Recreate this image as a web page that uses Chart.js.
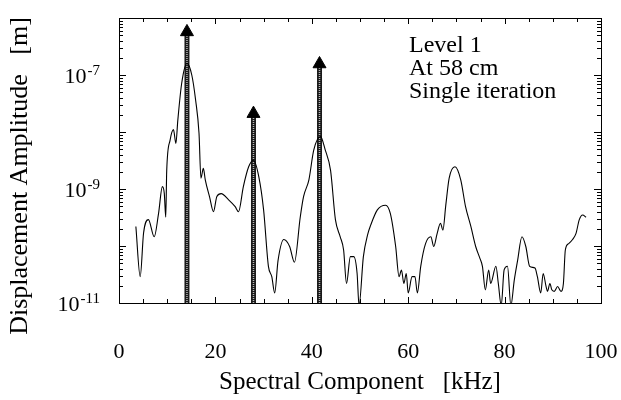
<!DOCTYPE html>
<html>
<head>
<meta charset="utf-8">
<script src="https://cdn.jsdelivr.net/npm/chart.js@4.4.0/dist/chart.umd.min.js"></script>
<style>
  html, body { margin: 0; padding: 0; background: #fff; }
  #wrap { width: 621px; height: 400px; }
</style>
</head>
<body>
<div id="wrap"><canvas id="graph"></canvas></div>
<script>
// Spectre mesuré (kHz -> m)
const freqs = [
  3.5, 4.4, 5.1, 6.1, 7.3, 8.2, 9.0, 9.4, 9.7, 9.9,
  10.6, 11.3, 11.8, 12.2, 13.0, 14.1, 15.1, 15.9, 16.6, 17.0,
  17.5, 17.9, 18.8, 19.6, 20.3, 21.2, 22.7, 24.1, 24.8, 25.8,
  26.9, 27.9, 29.0, 30.0, 31.0, 31.7, 32.3, 33.0, 34.2, 35.4,
  36.4, 37.6, 38.3, 39.4, 40.4, 41.8, 42.8, 43.9, 44.9, 45.9,
  46.6, 47.2, 48.0, 48.7, 49.4, 49.8, 50.7, 51.6, 52.2, 53.6,
  55.3, 56.3, 57.4, 58.1, 58.6, 59.1, 59.6, 60.0, 60.8, 61.4,
  61.9, 62.6, 63.6, 64.7, 65.3, 66.0, 66.7, 67.2, 67.8, 68.5,
  69.7, 70.9, 71.9, 73.0, 74.0, 74.9, 75.4, 76.0, 76.7, 77.1,
  78.2, 78.7, 79.3, 79.9, 80.6, 81.3, 82.0, 82.7, 83.6, 84.4,
  85.2, 86.3, 86.8, 87.5, 88.0, 88.6, 88.9, 89.4, 89.8, 90.3,
  91.0, 91.7, 92.2, 92.6, 93.3, 94.1, 94.8, 95.5, 96.2, 96.9
];
const amplitudes = [
  2.2e-10, 2.9e-11, 1.7e-10, 2.9e-10, 1.45e-10, 3.7e-10, 1.1e-9, 8.3e-10, 3.2e-10, 2.1e-9,
  7.2e-9, 1.1e-8, 6.3e-9, 1.6e-8, 7.1e-8, 1.6e-7, 1.0e-7, 3.6e-8, 9.5e-9, 1.55e-9,
  2.3e-9, 1.45e-9, 7.2e-10, 4.0e-10, 7.4e-10, 8.3e-10, 6.5e-10, 4.9e-10, 4.0e-10, 1.1e-9,
  2.45e-9, 3.2e-9, 1.65e-9, 4.3e-10, 4.4e-11, 2.9e-11, 1.5e-11, 5.6e-11, 1.3e-10, 9.8e-11,
  5.2e-11, 3.2e-10, 7.4e-10, 1.45e-9, 4.8e-9, 8.3e-9, 4.8e-9, 2.1e-9, 2.9e-10, 1.45e-10,
  8.5e-11, 2.2e-11, 6.5e-11, 6.5e-11, 3.3e-11, 9e-12, 6.5e-11, 1.6e-10, 2.3e-10, 4.3e-10,
  5.2e-10, 3.7e-10, 9.8e-11, 2.9e-11, 3.8e-11, 2.2e-11, 3.3e-11, 1.5e-11, 2.9e-11, 2.9e-11,
  1.5e-11, 4.4e-11, 1.1e-10, 1.45e-10, 9.8e-11, 1.65e-10, 2.5e-10, 1.9e-10, 5.2e-10, 1.55e-9,
  2.45e-9, 1.45e-9, 4.9e-10, 2.2e-10, 9.8e-11, 6.0e-11, 4.4e-11, 1.7e-11, 3.8e-11, 2.2e-11,
  4.4e-11, 2.2e-11, 9e-12, 3.8e-11, 4.4e-11, 9e-12, 2.5e-11, 5.6e-11, 1.45e-10, 9.8e-11,
  4.4e-11, 4.1e-11, 2.9e-11, 1.5e-11, 3.3e-11, 1.95e-11, 1.6e-11, 2.2e-11, 1.7e-11, 1.6e-11,
  1.95e-11, 1.6e-11, 2.2e-11, 8.5e-11, 1.1e-10, 1.3e-10, 1.65e-10, 2.9e-10, 3.5e-10, 3.2e-10
];

// Fleches (composantes de l'excitation)
const arrowFreqs = [14.1, 27.9, 41.6];
const arrowTops = [5.7e-7, 2.1e-8, 1.56e-7];

// Etiquettes des axes
const yLabelExponents = [-7, -9, -11];
const xLabelStep = 20;
const noteLines = ['Level 1', 'At 58 cm', 'Single iteration'];

const serif = '"Liberation Serif", "Times New Roman", serif';

// Construction des données pour Chart.js
const curveData = freqs.map(function (f, i) { return { x: f, y: amplitudes[i] }; });
const stemData = [];
arrowFreqs.forEach(function (f, i) {
  stemData.push({ x: f, y: 1e-11 });
  stemData.push({ x: f, y: arrowTops[i] });
  stemData.push({ x: f, y: null });
});
const headData = arrowFreqs.map(function (f, i) { return { x: f, y: arrowTops[i] }; });

// Cadre, graduations internes, étiquettes en exposant, titre vertical et texte
const cadre = {
  id: 'cadre',
  afterDraw(chart) {
    const ctx = chart.ctx;
    const a = chart.chartArea;
    const sx = chart.scales.x;
    const sy = chart.scales.y;
    ctx.save();
    ctx.strokeStyle = '#000';
    ctx.lineWidth = 1;

    function trait(x1, y1, x2, y2) {
      ctx.beginPath();
      ctx.moveTo(x1, y1);
      ctx.lineTo(x2, y2);
      ctx.stroke();
    }

    sx.ticks.forEach(function (t) {
      const px = Math.round(sx.getPixelForValue(t.value)) + 0.5;
      const len = t.value % xLabelStep === 0 ? 6 : 4;
      trait(px, a.bottom, px, a.bottom - len);
      trait(px, a.top, px, a.top + len);
    });
    sy.ticks.forEach(function (t) {
      const py = Math.round(sy.getPixelForValue(t.value)) + 0.5;
      const lg = Math.log10(t.value);
      const len = Math.abs(lg - Math.round(lg)) < 1e-6 ? 7 : 4;
      trait(a.left, py, a.left + len, py);
      trait(a.right, py, a.right - len, py);
    });

    ctx.strokeRect(Math.round(a.left) + 0.5, Math.round(a.top) + 0.5,
      Math.round(a.right - a.left), Math.round(a.bottom - a.top));

    // étiquettes 10^n
    ctx.fillStyle = '#000';
    ctx.textAlign = 'right';
    ctx.textBaseline = 'alphabetic';
    yLabelExponents.forEach(function (e) {
      const py = sy.getPixelForValue(Math.pow(10, e));
      ctx.font = '15px ' + serif;
      const exp = '-' + Math.abs(e);
      const w = ctx.measureText(exp).width;
      ctx.fillText(exp, 100, py);
      ctx.font = '22px ' + serif;
      ctx.fillText('10', 100 - w - 1, py + 8);
    });

    // titre de l'axe vertical
    ctx.save();
    ctx.translate(20, 176);
    ctx.rotate(-Math.PI / 2);
    ctx.textAlign = 'center';
    ctx.textBaseline = 'middle';
    ctx.font = '26px ' + serif;
    ctx.fillText('Displacement Amplitude   [m]', 0, 0);
    ctx.restore();

    // texte dans le graphique
    ctx.textAlign = 'left';
    ctx.font = '24px ' + serif;
    noteLines.forEach(function (txt, i) {
      ctx.fillText(txt, 409, 52 + i * 23);
    });
    ctx.restore();
  }
};

const config = {
  type: 'scatter',
  data: {
    datasets: [
      {
        type: 'line',
        data: stemData,
        borderColor: '#1a1a1a',
        borderWidth: 5,
        pointRadius: 0,
        spanGaps: false,
        order: 3
      },
      {
        type: 'line',
        data: stemData,
        borderColor: '#b8b8b8',
        borderWidth: 1.5,
        borderDash: [1, 1],
        pointRadius: 0,
        spanGaps: false,
        order: 2
      },
      {
        data: headData,
        pointStyle: 'triangle',
        pointRadius: 7.5,
        backgroundColor: '#000',
        borderColor: '#000',
        borderWidth: 1,
        order: 1
      },
      {
        type: 'line',
        data: curveData,
        borderColor: '#000',
        borderWidth: 1.1,
        pointRadius: 0,
        cubicInterpolationMode: 'monotone',
        order: 0
      }
    ]
  },
  options: {
    responsive: true,
    maintainAspectRatio: false,
    animation: false,
    layout: { padding: { top: 18, right: 20, left: 0, bottom: 0 } },
    plugins: { legend: { display: false }, tooltip: { enabled: false } },
    scales: {
      x: {
        type: 'linear',
        min: 0,
        max: 100,
        grid: { display: false },
        border: { display: false },
        ticks: {
          stepSize: 5,
          autoSkip: false,
          maxRotation: 0,
          padding: 28,
          color: '#000',
          font: { family: serif, size: 22 },
          callback: function (v) { return v % xLabelStep === 0 ? String(v) : ''; }
        },
        title: {
          display: true,
          text: 'Spectral Component   [kHz]',
          color: '#000',
          font: { family: serif, size: 25 },
          padding: { top: 0, bottom: 3 }
        },
        afterFit: function (s) {
          s.height = 97;
          s.paddingLeft = 0;
          s.paddingRight = 0;
        }
      },
      y: {
        type: 'logarithmic',
        min: 1e-11,
        max: 1e-6,
        grid: { display: false },
        border: { display: false },
        ticks: { display: false },
        afterBuildTicks: function (s) {
          const t = [];
          for (let e = -11; e <= -6; e++) {
            for (let m = 1; m <= 9; m++) {
              if (e === -6 && m > 1) break;
              t.push({ value: m * Math.pow(10, e) });
            }
          }
          s.ticks = t;
        },
        afterFit: function (s) { s.width = 119; }
      }
    }
  },
  plugins: [cadre]
};

new Chart(document.getElementById('graph'), config);
</script>
</body>
</html>
